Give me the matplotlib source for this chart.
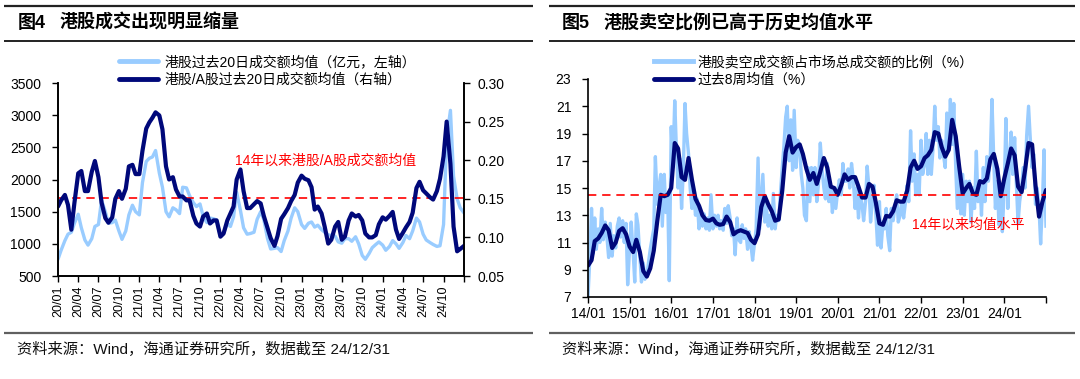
import numpy as np
import pandas as pd
import matplotlib
matplotlib.use("Agg")
import matplotlib.pyplot as plt
from matplotlib.lines import Line2D

plt.rcParams['font.family'] = ['Liberation Sans', 'Noto Sans CJK SC', 'DejaVu Sans']

# ---------------- data: figure 4 (semi-monthly from 2020-01) ----------------
hk_turnover = [
    760, 900, 1050, 1150, 1180, 1320, 1460, 1250, 1060, 980, 1080, 1270,
    1300, 1680, 1500, 1320, 1330, 1370, 1200, 1070, 1200, 1450, 1600, 1500,
    1450, 1950, 2280, 2330, 2350, 2450, 2100, 1880, 1500, 1420, 1560, 1530,
    1470, 1880, 1870, 1750, 1640, 1580, 1620, 1430, 1330, 1400, 1390, 1370,
    1110, 1160, 1320, 1270, 1420, 1800, 1520, 1250, 1150, 1160, 1180, 1380,
    1500, 1380, 1080, 920, 930, 940, 880, 1050, 1200, 1400, 1560, 1500,
    1300, 1240, 1320, 1340, 1260, 1290, 1220, 1180, 1140, 1130, 1120, 1030,
    1010, 1080, 1080, 1040, 1110, 1000, 820, 760, 850, 940, 990, 1030,
    980, 900, 960, 1050, 1000, 930, 1020, 1130, 1080, 1200, 1400, 1340,
    1150, 1060, 1020, 990, 960, 970, 1300, 2650, 3075, 2050, 1700, 1560,
    1480,
]
hk_a_ratio = [
    0.140, 0.148, 0.155, 0.142, 0.110, 0.145, 0.183, 0.186, 0.160, 0.160, 0.185, 0.199,
    0.178, 0.145, 0.125, 0.119, 0.126, 0.150, 0.160, 0.150, 0.163, 0.192, 0.194, 0.182,
    0.182, 0.212, 0.241, 0.249, 0.255, 0.262, 0.258, 0.240, 0.192, 0.175, 0.178, 0.162,
    0.153, 0.153, 0.148, 0.148, 0.128, 0.118, 0.114, 0.127, 0.131, 0.118, 0.122, 0.122,
    0.101, 0.105, 0.122, 0.131, 0.140, 0.175, 0.188, 0.160, 0.138, 0.138, 0.143, 0.147,
    0.144, 0.128, 0.112, 0.099, 0.089, 0.102, 0.124, 0.130, 0.138, 0.147, 0.155, 0.171,
    0.180, 0.176, 0.174, 0.165, 0.136, 0.140, 0.131, 0.114, 0.092, 0.097, 0.114, 0.120,
    0.097, 0.101, 0.122, 0.131, 0.127, 0.129, 0.122, 0.105, 0.100, 0.100, 0.103, 0.117,
    0.126, 0.123, 0.128, 0.133, 0.110, 0.098, 0.106, 0.113, 0.120, 0.132, 0.164, 0.172,
    0.161, 0.157, 0.152, 0.149, 0.160, 0.176, 0.205, 0.250, 0.195, 0.114, 0.082, 0.085,
    0.089,
]
hk_avg_level = 1710
fig4_dates = pd.date_range('2020-01-01', periods=len(hk_turnover), freq='SMS')
fig4_ticks = pd.date_range('2020-01-01', '2024-10-01', freq='QS')

# ---------------- data: figure 5 ----------------
short_ratio = [  # semi-monthly from 2014-01
    7.0, 9.5, 13.5, 10.2, 12.8, 10.5, 12.0, 11.0, 13.5, 11.2, 12.5, 11.5,
    9.9, 12.4, 10.0, 11.5, 10.6, 12.2, 12.8, 11.4, 12.6, 11.0, 12.4, 7.9,
    10.6, 12.5, 10.3, 8.1, 13.1, 12.3, 10.0, 8.1, 9.5, 8.3, 8.6, 9.5,
    10.5, 11.2, 12.0, 17.3, 13.8, 15.0, 16.0, 12.2, 16.0, 13.2, 14.5, 8.2,
    19.5, 16.5, 21.4, 18.0, 15.0, 17.2, 13.5, 16.0, 21.2, 19.0, 17.5, 15.0,
    13.5, 14.8, 13.0, 14.2, 12.0, 13.0, 12.2, 13.1, 12.0, 12.8, 11.9, 14.5,
    12.0, 13.0, 12.2, 13.0, 12.0, 12.6, 11.9, 13.5, 12.4, 13.7, 12.8, 11.5,
    12.0, 10.1, 12.8, 11.2, 11.0, 12.3, 11.3, 12.0, 10.5, 11.8, 10.8, 9.7,
    11.0, 12.0, 17.2, 12.0, 14.0, 16.0, 12.5, 13.6, 12.2, 13.0, 12.0, 14.6,
    12.0, 13.0, 12.6, 14.5, 16.5, 18.0, 20.2, 21.0, 17.0, 20.0, 16.3, 20.7,
    16.5, 18.5, 18.0, 16.0, 15.0, 13.0, 12.6, 16.5, 14.0, 16.5, 14.5, 16.5,
    14.0, 15.2, 18.3, 16.5, 15.0, 14.2, 16.8, 14.0, 15.2, 13.2, 14.8, 13.5,
    14.8, 15.6, 14.5, 16.8, 15.5, 15.5, 16.4, 15.0, 16.8, 15.8, 13.5, 15.0,
    12.8, 14.5, 13.8, 12.6, 14.0, 16.6, 15.0, 12.5, 14.2, 15.2, 13.0, 10.8,
    14.0, 10.6, 12.5, 12.0, 13.5, 11.5, 10.4, 13.5, 12.6, 13.5, 14.5, 12.5,
    13.0, 14.0, 12.8, 13.8, 15.2, 14.0, 19.2, 15.5, 17.5, 14.5, 16.0, 14.5,
    18.5, 16.0, 16.8, 19.0, 16.0, 18.5, 16.0, 17.8, 21.0, 18.5, 19.5, 17.2,
    18.5, 17.5, 16.5, 20.5, 18.0, 21.5, 18.2, 21.2, 16.5, 13.5, 16.5, 13.1,
    16.0, 13.0, 15.5, 14.0, 15.5, 12.5, 15.0, 13.5, 17.7, 14.0, 15.5, 13.0,
    16.5, 14.0, 17.3, 15.5, 17.5, 21.5, 17.0, 13.5, 15.5, 12.3, 14.5, 11.8,
    15.0, 20.1, 13.5, 17.0, 19.1, 16.0, 18.7, 15.5, 12.4, 14.0, 15.0, 16.5,
    15.0, 18.8, 21.0, 18.8, 16.5, 17.5, 13.8, 15.0, 13.5, 10.9, 14.0, 17.8,
    12.2,
]
short_ma8w = [  # monthly from 2014-01
    9.3, 9.7, 11.1, 11.3, 11.7, 12.25, 11.9, 10.6, 11.0, 11.85, 12.05, 11.6,
    10.7, 10.3, 11.2, 10.3, 8.9, 8.5, 9.1, 10.4, 12.6, 14.5, 14.4, 14.5,
    15.0, 18.3, 17.9, 15.8, 15.6, 17.2, 15.6, 14.2, 13.7, 13.0, 12.65, 12.6,
    12.75, 12.4, 12.3, 12.35, 12.9, 12.5, 11.6, 11.8, 11.9, 11.8, 11.7, 11.2,
    10.95, 11.6, 13.6, 14.4, 13.8, 13.3, 12.6, 12.7, 14.8, 17.6, 18.8, 17.6,
    18.0, 18.2, 17.5, 16.4, 15.6, 16.1, 15.3, 16.2, 17.2, 16.5, 15.1, 15.0,
    14.5, 15.2, 16.0, 15.6, 15.8, 15.8, 15.1, 14.3, 14.3, 15.3, 15.1, 13.9,
    12.4, 12.3, 12.95, 12.9, 13.3, 14.1, 14.0, 14.0, 14.8, 16.5, 17.0, 16.4,
    16.6, 17.2, 17.4, 17.8, 19.1, 19.0, 18.0, 17.3, 17.8, 20.0, 18.8, 16.6,
    14.6, 15.0, 15.3, 14.6, 14.5, 15.5, 15.4, 15.7, 17.1, 17.5, 16.4, 14.4,
    15.7, 16.8, 17.9, 17.4, 15.1, 14.7, 16.3, 18.3, 18.2, 15.2, 12.9, 14.0,
    14.85,
]
short_avg_level = 14.46
short_dates = pd.date_range('2014-01-01', periods=len(short_ratio), freq='SMS')
ma_dates = pd.date_range('2014-01-01', periods=len(short_ma8w), freq='MS')
fig5_ticks = pd.date_range('2014-01-01', '2024-01-01', freq='YS')

LIGHT = '#99CCFF'
DARK = '#00087A'
RED = '#FF0000'

W, H = 1080, 379
fig = plt.figure(figsize=(W / 100, H / 100), dpi=100)


def fx(px):
    return px / W


def fy(py):
    return 1 - py / H


def hline(x0, x1, y, lw, color):
    fig.add_artist(Line2D([fx(x0), fx(x1)], [fy(y), fy(y)], transform=fig.transFigure,
                          lw=lw, color=color, solid_capstyle='butt'))


# header/footer rules
for (a, b) in [(4, 533), (549, 1075)]:
    hline(a, b, 5.5, 1.6, '#222222')
    hline(a, b, 40.5, 1.3, '#111111')
    hline(a, b, 333, 1.6, '#606060')

# titles
fig.text(fx(18), fy(23), '图4', fontsize=13, fontweight='bold', va='center', ha='left')
fig.text(fx(60), fy(23), '港股成交出现明显缩量', fontsize=13, fontweight='bold', va='center', ha='left')
fig.text(fx(562), fy(23), '图5', fontsize=13, fontweight='bold', va='center', ha='left')
fig.text(fx(604), fy(23), '港股卖空比例已高于历史均值水平', fontsize=13, fontweight='bold', va='center', ha='left')

# sources
src = '资料来源：Wind，海通证券研究所，数据截至 24/12/31'
fig.text(fx(17), fy(349), src, fontsize=11, va='center', ha='left', color='#111111')
fig.text(fx(562), fy(349), src, fontsize=11, va='center', ha='left', color='#111111')

# ---------------- left chart ----------------
ax1 = fig.add_axes([fx(58), fy(276), fx(464) - fx(58), fy(83) - fy(276)])
ax2 = ax1.twinx()
l1, = ax1.plot(fig4_dates, hk_turnover, color=LIGHT, lw=2.4, solid_capstyle='round')
ax1.axhline(hk_avg_level, color=RED, lw=1.2, dashes=(5, 3.5))
l2, = ax2.plot(fig4_dates, hk_a_ratio, color=DARK, lw=3.0, solid_capstyle='round')
ax1.set_ylim(500, 3500)
ax1.set_yticks(np.arange(500, 3501, 500))
ax2.set_ylim(0.05, 0.30)
ax2.set_yticks(np.arange(0.05, 0.301, 0.05))
ax2.set_yticklabels([f'{v:.2f}' for v in np.arange(0.05, 0.301, 0.05)])
ax1.set_xlim(pd.Timestamp('2020-01-01'), pd.Timestamp('2025-01-01'))
ticks = list(fig4_ticks) + [pd.Timestamp('2025-01-01')]
ax1.set_xticks(ticks)
ax1.set_xticklabels([t.strftime('%y/%m') for t in fig4_ticks] + [''], rotation=90, fontsize=9)
ax1.tick_params(axis='x', direction='out', length=4, width=1, pad=3)
ax1.tick_params(axis='y', direction='out', length=4, width=1, labelsize=10, pad=8)
ax2.tick_params(axis='y', direction='out', length=4, width=1, labelsize=10, pad=6)
for sp in ['top']:
    ax1.spines[sp].set_visible(False)
    ax2.spines[sp].set_visible(False)
for ax in (ax1, ax2):
    for s in ax.spines.values():
        s.set_linewidth(1.2)
ax1.patch.set_visible(False)

fig.text(fx(235), fy(161), '14年以来港股/A股成交额均值', color=RED, fontsize=10, va='center', ha='left')

leg = ax2.legend([l1, l2], ['港股过去20日成交额均值（亿元，左轴）', '港股/A股过去20日成交额均值（右轴）'],
                 loc='upper left', bbox_to_anchor=(fx(119), fy(55)), bbox_transform=fig.transFigure,
                 frameon=False, fontsize=10, handlelength=2.8, handletextpad=0.45,
                 borderpad=0, borderaxespad=0, labelspacing=0.3)
for h in leg.legend_handles:
    h.set_linewidth(3.5)

# ---------------- right chart ----------------
ax3 = fig.add_axes([fx(588), fy(297), fx(1046) - fx(588), fy(79) - fy(297)])
l3, = ax3.plot(short_dates, short_ratio, color=LIGHT, lw=2.4, solid_joinstyle='round')
l4, = ax3.plot(ma_dates, short_ma8w, color=DARK, lw=3.0, solid_capstyle='round')
ax3.axhline(short_avg_level, color=RED, lw=1.2, dashes=(5, 3.5))
ax3.set_ylim(7, 23)
ax3.set_yticks(np.arange(7, 24, 2))
ax3.set_xlim(pd.Timestamp('2014-01-01'), pd.Timestamp('2025-01-01'))
ticks5 = list(fig5_ticks) + [pd.Timestamp('2025-01-01')]
ax3.set_xticks(ticks5)
ax3.set_xticklabels([t.strftime('%y/%m') for t in fig5_ticks] + [''], fontsize=10)
ax3.tick_params(axis='x', direction='out', length=4, width=1, pad=3)
ax3.tick_params(axis='y', direction='out', length=4, width=1, labelsize=10, pad=8)
ax3.spines['top'].set_visible(False)
ax3.spines['right'].set_visible(False)
for s in ax3.spines.values():
    s.set_linewidth(1.2)
ax3.patch.set_visible(False)

fig.text(fx(912), fy(225), '14年以来均值水平', color=RED, fontsize=10, va='center', ha='left')

leg2 = ax3.legend([l3, l4], ['港股卖空成交额占市场总成交额的比例（%）', '过去8周均值（%）'],
                  loc='upper left', bbox_to_anchor=(fx(654), fy(55)), bbox_transform=fig.transFigure,
                  frameon=False, fontsize=10, handlelength=2.8, handletextpad=0.3,
                  borderpad=0, borderaxespad=0, labelspacing=0.3)
for h in leg2.legend_handles:
    h.set_linewidth(3.5)

fig.savefig('out.png', dpi=100)
